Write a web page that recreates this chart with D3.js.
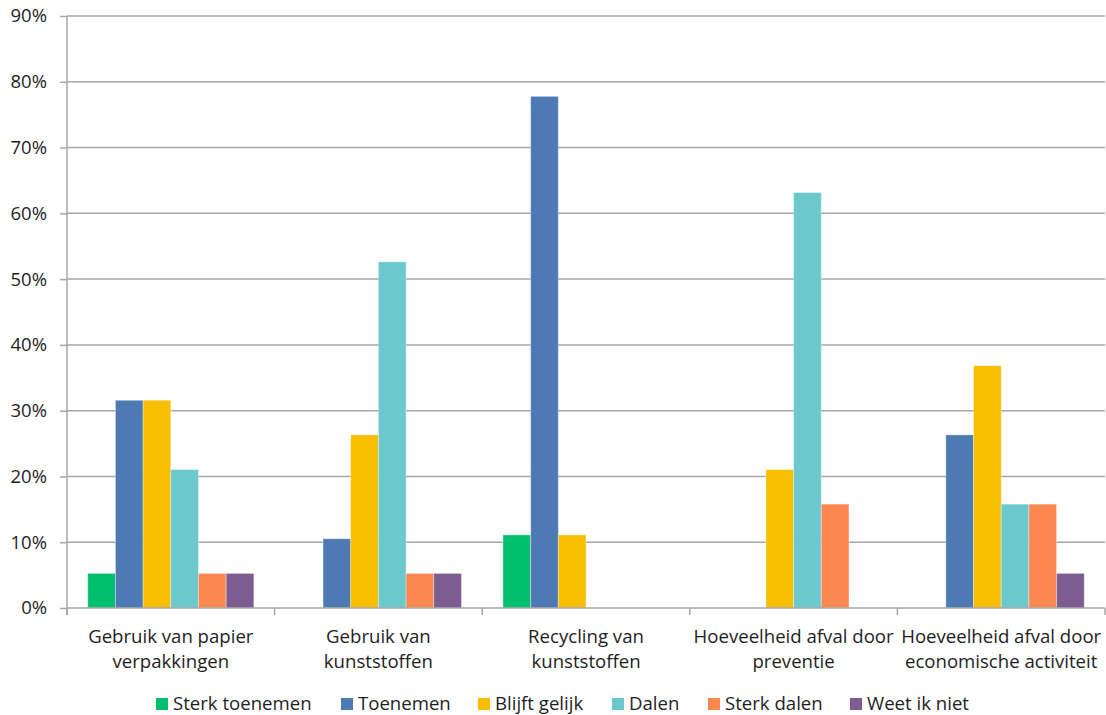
<!DOCTYPE html>
<html>
<head>
<meta charset="utf-8">
<script src="https://cdn.jsdelivr.net/npm/d3@7"></script>
<style>
  html, body { margin: 0; padding: 0; background: #fff; }
  svg { display: block; font-family: "Open Sans", "Lato", sans-serif; }
</style>
</head>
<body>
<svg id="chart" width="1106" height="715"></svg>
<script>
// Categories (two-line labels) and the answer options shown as series
const categories = [
  ["Gebruik van papier", "verpakkingen"],
  ["Gebruik van", "kunststoffen"],
  ["Recycling van", "kunststoffen"],
  ["Hoeveelheid afval door", "preventie"],
  ["Hoeveelheid afval door", "economische activiteit"]
];
const seriesNames = ["Sterk toenemen", "Toenemen", "Blijft gelijk", "Dalen", "Sterk dalen", "Weet ik niet"];
const seriesColors = ["#00BF6F", "#4E7AB4", "#F8BE00", "#6BC8CD", "#FD884F", "#7D5D91"];

// Share of respondents (%) per category, one array per answer option
const sterkToenemen = [5.26, 0, 11.11, 0, 0];
const toenemen      = [31.58, 10.53, 77.78, 0, 26.32];
const blijftGelijk  = [31.58, 26.32, 11.11, 21.05, 36.84];
const dalen         = [21.05, 52.63, 0, 63.16, 15.79];
const sterkDalen    = [5.26, 5.26, 0, 15.79, 15.79];
const weetIkNiet    = [5.26, 5.26, 0, 0, 5.26];
const seriesValues = [sterkToenemen, toenemen, blijftGelijk, dalen, sterkDalen, weetIkNiet];

const yTicks = [0, 10, 20, 30, 40, 50, 60, 70, 80, 90];

const svg = d3.select("#chart");
const plot = { left: 67, right: 1105, top: 16, bottom: 608 };
const gridColor = "#A6A6A6";
const textColor = "#1E1E1E";
const labelSize = 18.6;

const x0 = d3.scaleBand()
  .domain(d3.range(categories.length))
  .range([plot.left, plot.right])
  .paddingInner(0).paddingOuter(0);

// 150% gap width: six bars share 6/7.5 of each band
const x1 = d3.scaleBand()
  .domain(d3.range(seriesNames.length))
  .range([0, x0.bandwidth()])
  .paddingInner(0)
  .paddingOuter(0.75);

const y = d3.scaleLinear().domain([0, 90]).range([plot.bottom, plot.top]);

// Horizontal gridlines
svg.append("g")
  .selectAll("line")
  .data(yTicks.filter(t => t > 0))
  .join("line")
  .attr("x1", plot.left).attr("x2", plot.right)
  .attr("y1", d => y(d)).attr("y2", d => y(d))
  .attr("stroke", gridColor).attr("stroke-width", 1.5);

// Y axis
const yAxis = svg.append("g")
  .attr("transform", `translate(${plot.left},0)`)
  .call(d3.axisLeft(y).tickValues(yTicks).tickFormat(d => d + "%").tickSize(7).tickPadding(13));
yAxis.select(".domain").attr("stroke", gridColor).attr("stroke-width", 1.5)
  .attr("d", `M0,${plot.top}V${plot.bottom + 7}`);
yAxis.selectAll(".tick line").attr("stroke", gridColor).attr("stroke-width", 1.5);
yAxis.selectAll(".tick text").attr("fill", textColor).attr("font-size", 18.5)
  .attr("font-family", "'Open Sans', sans-serif");

// Bars
const groups = svg.append("g")
  .selectAll("g")
  .data(categories.map((c, i) => i))
  .join("g")
  .attr("transform", i => `translate(${x0(i)},0)`);

groups.selectAll("rect")
  .data(ci => seriesValues.map((vals, si) => ({ si, v: vals[ci] })))
  .join("rect")
  .attr("x", d => x1(d.si))
  .attr("width", x1.bandwidth())
  .attr("y", d => y(d.v))
  .attr("height", d => y(0) - y(d.v))
  .attr("fill", d => seriesColors[d.si])
  .attr("stroke", "rgba(255,255,255,0.35)")
  .attr("stroke-width", 1);

// X axis line with tick marks at band boundaries
const xAxisG = svg.append("g");
xAxisG.append("line")
  .attr("x1", plot.left).attr("x2", plot.right)
  .attr("y1", plot.bottom).attr("y2", plot.bottom)
  .attr("stroke", gridColor).attr("stroke-width", 1.5);
xAxisG.selectAll("line.tick")
  .data(d3.range(categories.length + 1))
  .join("line")
  .attr("class", "tick")
  .attr("x1", i => i < categories.length ? x0(i) : plot.right)
  .attr("x2", i => i < categories.length ? x0(i) : plot.right)
  .attr("y1", plot.bottom).attr("y2", plot.bottom + 7)
  .attr("stroke", gridColor).attr("stroke-width", 1.5);

// Category labels
const catLabels = svg.append("g")
  .selectAll("text")
  .data(categories)
  .join("text")
  .attr("x", (d, i) => x0(i) + x0.bandwidth() / 2)
  .attr("y", 643)
  .attr("text-anchor", "middle")
  .attr("font-size", labelSize)
  .attr("fill", textColor);
catLabels.selectAll("tspan")
  .data(d => d)
  .join("tspan")
  .attr("x", function () { return this.parentNode.getAttribute("x"); })
  .attr("dy", (d, i) => i === 0 ? 0 : 25)
  .text(d => d);

// Legend
const legendX = [156, 341, 478, 612, 708, 850];
const legend = svg.append("g")
  .selectAll("g")
  .data(seriesNames)
  .join("g")
  .attr("transform", (d, i) => `translate(${legendX[i]},698)`);
legend.append("rect")
  .attr("width", 12).attr("height", 12)
  .attr("fill", (d, i) => seriesColors[i]);
legend.append("text")
  .attr("x", 17).attr("y", 12)
  .attr("font-size", labelSize)
  .attr("fill", textColor)
  .text(d => d);
</script>
</body>
</html>
